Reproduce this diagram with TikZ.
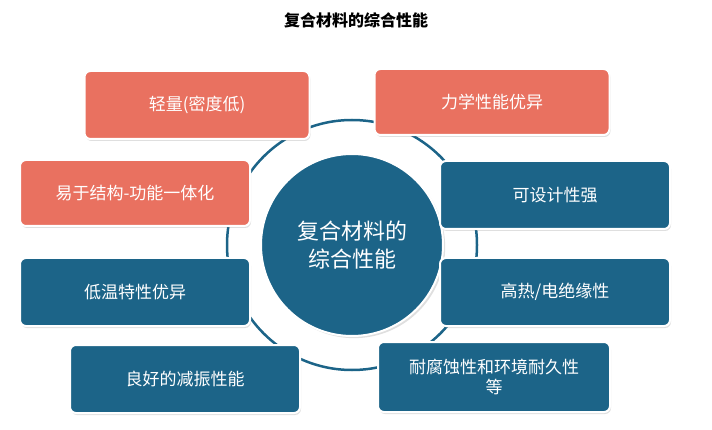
\documentclass[tikz,border=0pt]{standalone}
\usepackage{fontspec}
\newfontfamily\cjk{Noto Sans CJK SC}
\usetikzlibrary{shadows}
\definecolor{sal}{HTML}{E97160}
\definecolor{blu}{HTML}{1C6488}
\tikzset{
 card/.style={rounded corners=6pt, draw=white, line width=2pt, text=white, font=\cjk\fontsize{17}{20}\selectfont, align=center, drop shadow={opacity=0.25, shadow xshift=1pt, shadow yshift=-2pt}},
}
\begin{document}
\begin{tikzpicture}[x=1pt,y=-1pt]
\useasboundingbox (0,0) rectangle (712,430);
\node[font=\cjk\bfseries\fontsize{16}{18}\selectfont] (title) at (356,20) {复合材料的综合性能};
\draw[blu, line width=2.5pt] (352,245) circle (125);
\node[circle, fill=blu, draw=white, line width=2pt, minimum size=182pt, text=white, font=\cjk\fontsize{22}{28}\selectfont, align=center, drop shadow={opacity=0.25}] (c) at (352,245) {复合材料的\\综合性能};
\node[card, fill=sal, minimum width=225pt, minimum height=68pt] (a) at (197,105) {轻量(密度低)};
\node[card, fill=sal, minimum width=235pt, minimum height=66pt] (b) at (492,102) {力学性能优异};
\node[card, fill=sal, minimum width=230pt, minimum height=66pt] (d) at (135,193) {易于结构-功能一体化};
\node[card, fill=blu, minimum width=230pt, minimum height=68pt] (e) at (555,195) {可设计性强};
\node[card, fill=blu, minimum width=230pt, minimum height=68pt] (f) at (135,292) {低温特性优异};
\node[card, fill=blu, minimum width=230pt, minimum height=68pt] (g) at (555,292) {高热/电绝缘性};
\node[card, fill=blu, minimum width=230pt, minimum height=68pt] (h) at (185,379) {良好的减振性能};
\node[card, fill=blu, minimum width=232pt, minimum height=70pt] (i) at (494,377) {耐腐蚀性和环境耐久性\\等};
\end{tikzpicture}
\end{document}
